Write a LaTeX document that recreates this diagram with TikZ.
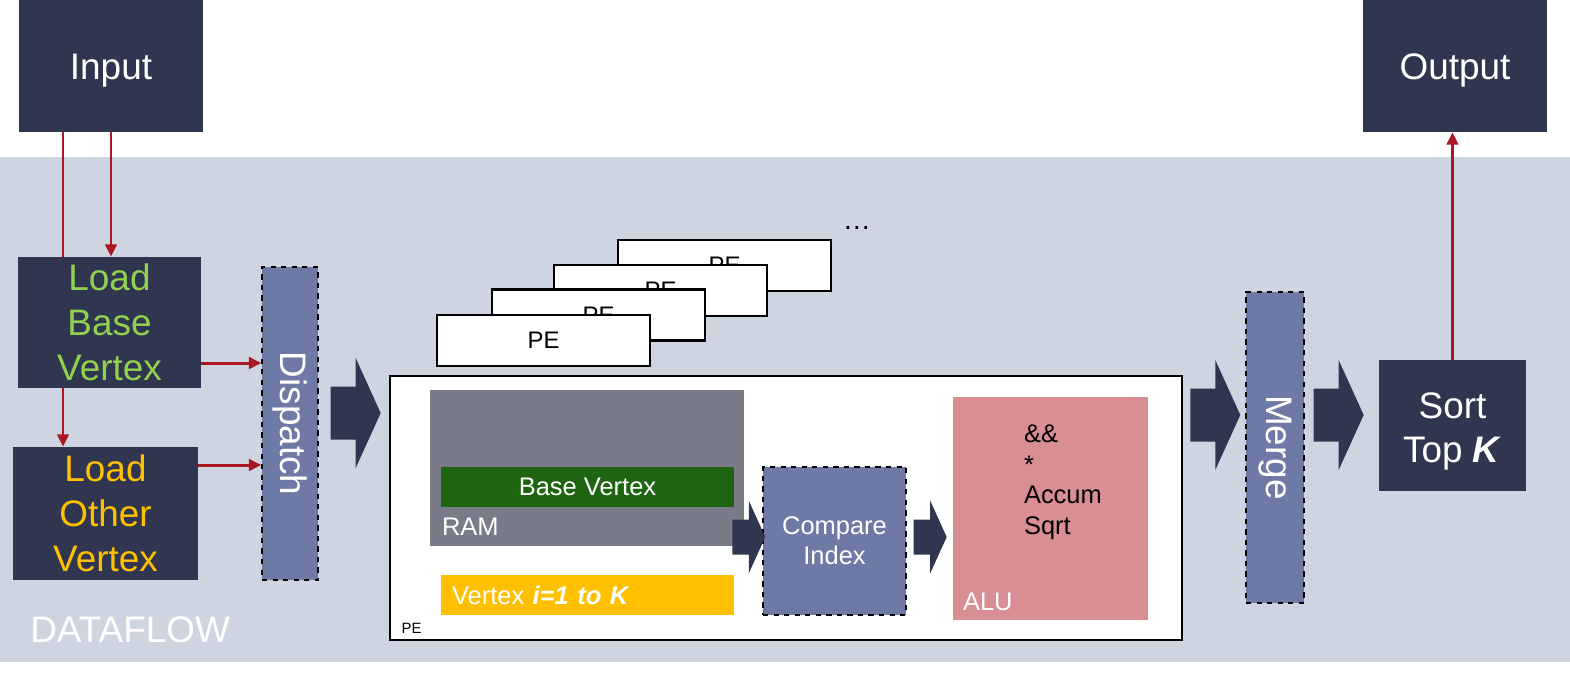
\documentclass[tikz,border=0pt]{standalone}
\usepackage{fontspec}
\setmainfont{Liberation Sans}
\usetikzlibrary{arrows.meta,calc}

\definecolor{navy}{HTML}{30364F}
\definecolor{bandgray}{HTML}{CFD4E1}
\definecolor{unitblue}{HTML}{6E7AA5}
\definecolor{ramgray}{HTML}{797C88}
\definecolor{basegreen}{HTML}{1F6411}
\definecolor{loadgreen}{HTML}{92D050}
\definecolor{vertexgold}{HTML}{FFC000}
\definecolor{alupink}{HTML}{D88E92}
\definecolor{linkred}{HTML}{A91822}

\newcommand{\bigfont}{\fontsize{21}{25.5}\selectfont}
\newcommand{\midfont}{\fontsize{14.5}{17}\selectfont}

% block arrow: #1 = start point (left middle), #2 = scale
\newcommand{\fatarrow}[2]{%
  \fill[navy, shift={#1}, scale=#2] (0,0.53) -- (0.5,0.53) -- (0.5,1.1) -- (1,0)
    -- (0.5,-1.1) -- (0.5,-0.53) -- (0,-0.53) -- cycle;}

\tikzset{
  darkbox/.style={fill=navy, text=white, font=\bigfont, align=center, inner sep=0pt},
  unitbox/.style={draw=black, dashed, line width=0.8pt, fill=unitblue, text=white, inner sep=0pt},
  pecard/.style={draw=black, line width=1.2pt, fill=white, minimum width=4.26cm, minimum height=1.02cm,
    font=\fontsize{13.6}{16}\selectfont, inner sep=0pt},
  redlink/.style={draw=linkred, line width=1.7pt, -{Triangle[length=7pt,width=6.5pt]}},
  redline/.style={draw=linkred, line width=1.7pt}
}

\begin{document}
\begin{tikzpicture}
    \useasboundingbox (0,0) rectangle (31.4,-13.5);
    \fill[white] (0,0) rectangle (31.4,-13.5);
    \fill[bandgray] (0,-3.14) rectangle (31.4,-13.24);

    % outside the dataflow
    \node[darkbox, text height=15.8pt, text depth=0pt, minimum width=3.68cm, minimum height=2.64cm] (input) at (2.22,-1.32) {Input};
    \node[darkbox, text height=15.8pt, text depth=0pt, minimum width=3.68cm, minimum height=2.64cm] (output) at (29.1,-1.32) {Output};

    % loaders and dispatch
    \node[darkbox, text=loadgreen, minimum width=3.66cm, minimum height=2.62cm] (loadbase) at (2.19,-6.45) {Load\\Base\\Vertex};
    \node[darkbox, text=vertexgold, minimum width=3.7cm, minimum height=2.66cm] (loadother) at (2.11,-10.27) {Load\\Other\\Vertex};
    \node[unitbox, minimum width=1.12cm, minimum height=6.26cm] (dispatch) at (5.8,-8.47) {};
    \node[rotate=-90, text=white, font=\bigfont] (dispatchtext) at (dispatch) {Dispatch};

    \coordinate (lx) at (1.26,0);
    \draw[redline] (input.south -| lx) -- (loadbase.north -| lx);
    \draw[redlink] (loadbase.south -| lx) -- (loadother.north -| lx);
    \draw[redlink] (input.south) -- (input.south |- loadbase.north);
    \draw[redlink] ([yshift=-0.81cm]loadbase.east) -- ([yshift=-0.81cm]loadbase.east -| dispatch.west);
    \draw[redlink] ([yshift=0.97cm]loadother.east) -- ([yshift=0.97cm]loadother.east -| dispatch.west);

    % stack of PEs
    \node[pecard] (pe4) at (14.49,-5.31) {PE};
    \node[pecard] (pe3) at (13.21,-5.81) {PE};
    \node[pecard] (pe2) at (11.97,-6.30) {PE};
    \node[pecard] (pe1) at (10.87,-6.81) {PE};
    \node[font=\fontsize{16}{18}\selectfont, inner sep=0pt] (dots) at (17.14,-4.56) {…};

    % one PE in detail
    \node[draw=black, line width=0.8pt, fill=white, minimum width=15.84cm, minimum height=5.28cm, inner sep=0pt] (pe) at (15.72,-10.16) {};
    \node[anchor=base west, font=\fontsize{8.5}{10}\selectfont, inner sep=0pt] (pelabel) at ([xshift=0.24cm, yshift=0.14cm]pe.south west) {PE};

    \node[fill=ramgray, minimum width=6.28cm, minimum height=3.12cm, inner sep=0pt] (ram) at (11.74,-9.36) {};
    \node[anchor=base west, text=white, font=\midfont, inner sep=0pt] (ramlabel) at ([xshift=0.24cm, yshift=0.22cm]ram.south west) {RAM};
    \node[fill=basegreen, text=white, font=\midfont, minimum width=5.86cm, minimum height=0.8cm, inner sep=0pt] (basev) at (11.75,-9.74) {Base Vertex};
    \node[fill=vertexgold, text=white, font=\midfont, text width=5.42cm, inner xsep=0.22cm, inner ysep=0pt,
      minimum height=0.8cm, align=left] (otherv) at (11.75,-11.9) {Vertex \textbf{\textit{i=1 to K}}};

    \node[unitbox, minimum width=2.86cm, minimum height=2.96cm, font=\midfont, align=center] (cmp) at (16.69,-10.82) {Compare\\Index};

    \node[fill=alupink, minimum width=3.9cm, minimum height=4.46cm, inner sep=0pt] (alu) at (21.01,-10.17) {};
    \node[anchor=north west, align=left, font=\fontsize{14.5}{17.4}\selectfont, inner sep=0pt] (aluops) at ([xshift=1.42cm, yshift=-0.56cm]alu.north west) {\&\&\\*\\Accum\\Sqrt};
    \node[anchor=base west, text=white, font=\midfont, inner sep=0pt] (alulabel) at ([xshift=0.2cm, yshift=0.2cm]alu.south west) {ALU};

    % merge and sort
    \node[unitbox, minimum width=1.16cm, minimum height=6.22cm] (merge) at (25.5,-8.95) {};
    \node[rotate=-90, text=white, font=\bigfont] (mergetext) at (merge) {Merge};
    \node[darkbox, minimum width=2.94cm, minimum height=2.62cm] (sort) at (29.05,-8.51) {};
    \node[darkbox] (sorttext) at ([yshift=-0.12cm]sort) {Sort\\Top \textbf{\textit{K}}};
    \draw[redlink] (sort.north) -- (sort.north |- output.south);

    % block arrows
    \fatarrow{($(dispatch.east)+(0.24,0.21)$)}{1}
    \fatarrow{($(cmp.west)+(-0.6,0.08)$)}{0.66}
    \fatarrow{($(cmp.east)+(0.14,0.08)$)}{0.66}
    \fatarrow{($(merge.west)+(-1.1,0.65)$)}{1}
    \fatarrow{($(sort.west)+(-1.3,0.21)$)}{1}

    \node[anchor=west, text=white, font=\bigfont, inner sep=0pt] (dataflow) at (0.6,-12.6) {DATAFLOW};
\end{tikzpicture}
\end{document}
